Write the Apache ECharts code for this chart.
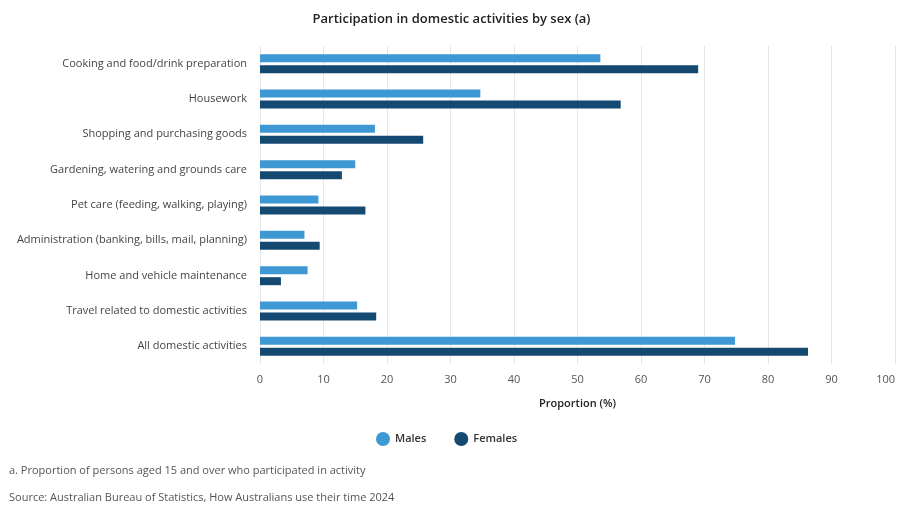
<!DOCTYPE html>
<html>
<head>
<meta charset="utf-8">
<script src="https://cdn.jsdelivr.net/npm/echarts@6/dist/echarts.min.js"></script>
<style>
  html, body { margin: 0; padding: 0; background: #fff; }
  #chart { width: 903px; height: 520px; }
</style>
</head>
<body>
<div id="chart"></div>
<script>
// categories top to bottom
var categories = [
    'Cooking and food/drink preparation',
    'Housework',
    'Shopping and purchasing goods',
    'Gardening, watering and grounds care',
    'Pet care (feeding, walking, playing)',
    'Administration (banking, bills, mail, planning)',
    'Home and vehicle maintenance',
    'Travel related to domestic activities',
    'All domestic activities'
];
var males   = [53.6, 34.7, 18.1, 15.0, 9.2, 7.0, 7.5, 15.3, 74.8];
var females = [69.0, 56.8, 25.7, 12.9, 16.6, 9.4, 3.3, 18.3, 86.3];
var seriesNames = ['Males', 'Females'];
var colors = ['#3d98d3', '#144a72'];

var font = '"Open Sans", "Noto Sans", sans-serif';
var myChart = echarts.init(document.getElementById('chart'));

var option = {
    animation: false,
    textStyle: {fontFamily: font},
    title: [{
        text: 'Participation in domestic activities by sex (a)',
        left: 'center',
        top: 8,
        textStyle: {fontFamily: font, fontSize: 13, fontWeight: 600, color: '#222'}
    }, {
        text: 'a. Proportion of persons aged 15 and over who participated in activity',
        left: 4,
        top: 460,
        textStyle: {fontFamily: font, fontSize: 11, fontWeight: 'normal', color: '#555'}
    }, {
        text: 'Source: Australian Bureau of Statistics, How Australians use their time 2024',
        left: 4,
        top: 487,
        textStyle: {fontFamily: font, fontSize: 11, fontWeight: 'normal', color: '#555'}
    }],
    legend: {
        data: seriesNames,
        left: 371,
        top: 427,
        icon: 'circle',
        itemWidth: 14,
        itemHeight: 14,
        itemGap: 28,
        textStyle: {fontFamily: font, fontSize: 11, fontWeight: 600, color: '#333'}
    },
    grid: {left: 260, right: 8, top: 46, bottom: 156, containLabel: false},
    xAxis: {
        type: 'value',
        min: 0,
        max: 100,
        interval: 10,
        name: 'Proportion (%)',
        nameLocation: 'middle',
        nameGap: 34,
        nameTextStyle: {fontFamily: font, fontSize: 11, fontWeight: 600, color: '#222'},
        axisLine: {show: false},
        axisTick: {show: false},
        axisLabel: {fontFamily: font, fontSize: 11, color: '#555', margin: 10, alignMaxLabel: 'right'},
        splitLine: {lineStyle: {color: '#e6e6e6', width: 1}}
    },
    yAxis: {
        type: 'category',
        data: categories,
        inverse: true,
        axisLine: {show: false},
        axisTick: {show: false},
        axisLabel: {fontFamily: font, fontSize: 11, color: '#444', margin: 13}
    },
    series: [{
        name: seriesNames[0],
        type: 'bar',
        data: males,
        barWidth: 8,
        barGap: '38%',
        itemStyle: {color: colors[0]}
    }, {
        name: seriesNames[1],
        type: 'bar',
        data: females,
        barWidth: 8,
        barGap: '38%',
        itemStyle: {color: colors[1]}
    }]
};
myChart.setOption(option);
</script>
</body>
</html>
